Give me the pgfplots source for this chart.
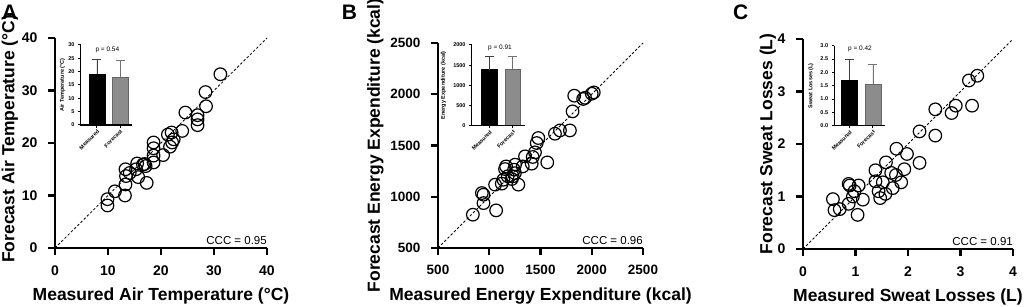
\documentclass[border=0pt]{standalone}
\usepackage{fontspec}
\setmainfont{Liberation Sans}
\usepackage{pgfplots}
\pgfplotsset{compat=1.18}

\pgfplotstableread{
x y
31.2 33.1
28.4 29.7
28.5 27.0
26.9 25.3
26.9 24.5
26.9 23.4
24.6 25.8
24.0 22.3
22.0 22.0
21.3 21.6
22.4 20.7
22.1 20.1
21.7 19.3
20.4 17.7
18.6 20.1
18.6 19.0
18.6 17.6
18.6 16.3
17.1 15.6
17.3 12.4
16.6 15.9
15.5 16.1
15.3 15.0
15.7 13.5
13.3 15.0
14.1 14.3
13.4 13.7
13.3 12.1
13.2 10.0
11.3 10.8
9.9 9.3
9.9 8.1
16.9 16.0
}\dataA

\pgfplotstableread{
x y
2020 2018
2000 2005
1916 1954
1935 1965
1829 1986
1813 1833
1787 1647
1690 1647
1641 1615
1566 1335
1479 1573
1463 1524
1446 1433
1424 1388
1414 1323
1349 1394
1327 1296
1252 1313
1242 1264
1229 1199
1220 1173
1284 1118
1164 1296
1154 1270
1138 1166
1122 1128
1057 1118
1067 867
944 1020
928 1036
944 938
840 825
1250 1230
1180 1200
}\dataB

\pgfplotstableread{
x y
3.32 3.30
3.16 3.21
3.22 2.73
2.91 2.73
2.83 2.59
2.52 2.66
2.52 2.16
2.22 2.24
2.22 1.64
1.98 1.81
1.78 1.91
1.93 1.52
1.87 1.27
1.58 1.65
1.68 1.45
1.77 1.41
1.71 1.16
1.38 1.50
1.38 1.29
1.52 1.27
1.57 1.05
1.44 1.10
1.47 0.97
1.06 1.21
1.14 0.94
1.04 0.65
0.87 1.24
0.89 1.21
0.98 1.10
0.95 1.00
0.87 0.86
0.57 0.95
0.60 0.74
0.70 0.76
}\dataC

\begin{document}
\begin{tikzpicture}

% ---------------- Panel A ----------------
\begin{axis}[scale only axis, anchor=south west, at={(55pt,59pt)}, width=212pt, height=210pt,
  xmin=0, xmax=40, ymin=0, ymax=40,
  xtick={0,10,20,30,40}, ytick={0,10,20,30,40},
  xticklabels={0,10,20,30,40}, yticklabels={0,10,20,30,40},
  enlargelimits=false, clip=false,
  xticklabel style={font=\fontsize{14}{14}\selectfont\bfseries, yshift=-7pt},
  yticklabel style={font=\fontsize{14}{14}\selectfont\bfseries, xshift=-7pt},
  xlabel={Measured Air Temperature (°C)},
  ylabel={Forecast Air Temperature (°C)},
  xlabel style={font=\fontsize{17.5}{17.5}\selectfont\bfseries, at={(axis description cs:0.5,0)}, anchor=base, yshift=-53pt},
  ylabel style={font=\fontsize{17.5}{17.5}\selectfont\bfseries, at={(axis description cs:-0.213,0.52)}, anchor=center},
  axis lines=left,
  axis line style={-, line width=2.4pt, black},
  tick style={line width=2.2pt, black},
  tick align=outside, major tick length=7pt]
\addplot[black, line width=0.8pt, dash pattern=on 2.5pt off 2pt] coordinates {(0,0) (40,40)};
\addplot[only marks, mark=o, mark size=6.3pt, mark options={line width=1.2pt, black}] table[x=x,y=y] {\dataA};
\addplot[black, line width=2.4pt, mark=none] coordinates {(0,40) (0,0) (40,0)};
\addplot[black, line width=2.2pt, mark=none, unbounded coords=jump] coordinates {
 (0,0)(0,-1.33) (nan,nan) (10,0)(10,-1.33) (nan,nan) (20,0)(20,-1.33) (nan,nan)
 (30,0)(30,-1.33) (nan,nan) (40,0)(40,-1.33) (nan,nan)
 (0,0)(-1.32,0) (nan,nan) (0,10)(-1.32,10) (nan,nan) (0,20)(-1.32,20) (nan,nan)
 (0,30)(-1.32,30) (nan,nan) (0,40)(-1.32,40)};
\node[anchor=south east, inner sep=0pt, font=\fontsize{11.5}{11.5}\selectfont] at (rel axis cs:1,0) [yshift=3pt] {CCC = 0.95};
\end{axis}
\begin{axis}[scale only axis, anchor=south west, at={(80.7pt,182pt)}, width=51pt, height=80pt,
  xmin=-0.7, xmax=1.5, ymin=0, ymax=30,
  xtick={0,1}, xticklabels={Measured,Forecast},
  ytick={0,5,10,15,20,25,30}, yticklabels={0,5,10,15,20,25,30},
  enlargelimits=false, clip=false,
  xticklabel style={font=\fontsize{5.5}{5.5}\selectfont\bfseries, rotate=45, anchor=north east, inner sep=1pt},
  yticklabel style={font=\fontsize{5.5}{5.5}\selectfont\bfseries, inner sep=1pt, xshift=-2.5pt},
  ylabel={Air Temperature (°C)},
  ylabel style={font=\fontsize{5.5}{5.5}\selectfont\bfseries, at={(axis description cs:-0.36,0.5)}, anchor=center},
  axis lines=left,
  axis line style={-, line width=1.1pt, black},
  tick style={line width=1pt, black},
  tick align=outside, major tick length=2.5pt]
\addplot[ybar, bar width=15.7pt, fill=black, draw=black,
  error bars/.cd, y dir=plus, y explicit,
  error bar style={line width=0.7pt, black!75},
  error mark options={rotate=90, mark size=4.5pt, line width=0.7pt, black!75}]
  coordinates {(0,19.0) +- (0,5.75)};
\addplot[ybar, bar width=15.7pt, fill=black!45, draw=black!60,
  error bars/.cd, y dir=plus, y explicit,
  error bar style={line width=0.7pt, black!55},
  error mark options={rotate=90, mark size=4.5pt, line width=0.7pt, black!55}]
  coordinates {(1,17.9) +- (0,6.2)};
\addplot[black, line width=1.1pt, mark=none] coordinates {(-0.7,30) (-0.7,0) (1.5,0)};
\addplot[black, line width=1pt, mark=none, unbounded coords=jump] coordinates {
 (0,0)(0,-0.94) (nan,nan) (1,0)(1,-0.94) (nan,nan)
 (-0.7,0)(-0.808,0) (nan,nan) (-0.7,5)(-0.808,5) (nan,nan) (-0.7,10)(-0.808,10) (nan,nan)
 (-0.7,15)(-0.808,15) (nan,nan) (-0.7,20)(-0.808,20) (nan,nan) (-0.7,25)(-0.808,25) (nan,nan)
 (-0.7,30)(-0.808,30)};
\node[font=\fontsize{6.5}{6.5}\selectfont] at (axis cs:0.45,28.1) {p = 0.54};
\end{axis}

% ---------------- Panel B ----------------
\begin{axis}[scale only axis, anchor=south west, at={(438pt,59pt)}, width=205pt, height=205pt,
  xmin=500, xmax=2500, ymin=500, ymax=2500,
  xtick={500,1000,1500,2000,2500}, ytick={500,1000,1500,2000,2500},
  xticklabels={500,1000,1500,2000,2500}, yticklabels={500,1000,1500,2000,2500},
  enlargelimits=false, clip=false,
  xticklabel style={font=\fontsize{13.5}{13.5}\selectfont\bfseries, yshift=-7pt},
  yticklabel style={font=\fontsize{13.5}{13.5}\selectfont\bfseries, xshift=-7pt},
  xlabel={Measured Energy Expenditure (kcal)},
  ylabel={Forecast Energy Expenditure (kcal)},
  xlabel style={font=\fontsize{17.5}{17.5}\selectfont\bfseries, at={(axis description cs:0.5,0)}, anchor=base, yshift=-53pt},
  ylabel style={font=\fontsize{17.5}{17.5}\selectfont\bfseries, at={(axis description cs:-0.305,0.5)}, anchor=center},
  axis lines=left,
  axis line style={-, line width=2.4pt, black},
  tick style={line width=2.2pt, black},
  tick align=outside, major tick length=7pt]
\addplot[black, line width=0.8pt, dash pattern=on 2.5pt off 2pt] coordinates {(500,500) (2500,2500)};
\addplot[only marks, mark=o, mark size=6.3pt, mark options={line width=1.2pt, black}] table[x=x,y=y] {\dataB};
\addplot[black, line width=2.4pt, mark=none] coordinates {(500,2500) (500,500) (2500,500)};
\addplot[black, line width=2.2pt, mark=none, unbounded coords=jump] coordinates {
 (500,500)(500,431.7) (nan,nan) (1000,500)(1000,431.7) (nan,nan) (1500,500)(1500,431.7) (nan,nan)
 (2000,500)(2000,431.7) (nan,nan) (2500,500)(2500,431.7) (nan,nan)
 (500,500)(431.7,500) (nan,nan) (500,1000)(431.7,1000) (nan,nan) (500,1500)(431.7,1500) (nan,nan)
 (500,2000)(431.7,2000) (nan,nan) (500,2500)(431.7,2500)};
\node[anchor=south east, inner sep=0pt, font=\fontsize{11.5}{11.5}\selectfont] at (rel axis cs:1,0) [yshift=3pt] {CCC = 0.96};
\end{axis}
\begin{axis}[scale only axis, anchor=south west, at={(471.7pt,181.3pt)}, width=53.3pt, height=80.7pt,
  xmin=-0.76, xmax=1.52, ymin=0, ymax=2000,
  xtick={0,1}, xticklabels={Measured,Forecast},
  ytick={0,500,1000,1500,2000}, yticklabels={0,500,1000,1500,2000},
  enlargelimits=false, clip=false,
  xticklabel style={font=\fontsize{5.5}{5.5}\selectfont\bfseries, rotate=45, anchor=north east, inner sep=1pt},
  yticklabel style={font=\fontsize{5.5}{5.5}\selectfont\bfseries, inner sep=1pt, xshift=-2.5pt},
  ylabel={Energy Expenditure (kcal)},
  ylabel style={font=\fontsize{5.5}{5.5}\selectfont\bfseries, at={(axis description cs:-0.53,0.5)}, anchor=center},
  axis lines=left,
  axis line style={-, line width=1.1pt, black},
  tick style={line width=1pt, black},
  tick align=outside, major tick length=2.5pt]
\addplot[ybar, bar width=15.7pt, fill=black, draw=black,
  error bars/.cd, y dir=plus, y explicit,
  error bar style={line width=0.7pt, black!75},
  error mark options={rotate=90, mark size=4.5pt, line width=0.7pt, black!75}]
  coordinates {(0,1388) +- (0,323)};
\addplot[ybar, bar width=15.7pt, fill=black!45, draw=black!60,
  error bars/.cd, y dir=plus, y explicit,
  error bar style={line width=0.7pt, black!55},
  error mark options={rotate=90, mark size=4.5pt, line width=0.7pt, black!55}]
  coordinates {(1,1400) +- (0,311)};
\addplot[black, line width=1.1pt, mark=none] coordinates {(-0.76,2000) (-0.76,0) (1.52,0)};
\addplot[black, line width=1pt, mark=none, unbounded coords=jump] coordinates {
 (0,0)(0,-62) (nan,nan) (1,0)(1,-62) (nan,nan)
 (-0.76,0)(-0.867,0) (nan,nan) (-0.76,500)(-0.867,500) (nan,nan) (-0.76,1000)(-0.867,1000) (nan,nan)
 (-0.76,1500)(-0.867,1500) (nan,nan) (-0.76,2000)(-0.867,2000)};
\node[font=\fontsize{6.5}{6.5}\selectfont] at (axis cs:0.45,1918) {p = 0.91};
\end{axis}

% ---------------- Panel C ----------------
\begin{axis}[scale only axis, anchor=south west, at={(803pt,58pt)}, width=210pt, height=210pt,
  xmin=0, xmax=4, ymin=0, ymax=4,
  xtick={0,1,2,3,4}, ytick={0,1,2,3,4},
  xticklabels={0,1,2,3,4}, yticklabels={0,1,2,3,4},
  enlargelimits=false, clip=false,
  xticklabel style={font=\fontsize{14}{14}\selectfont\bfseries, yshift=-7pt},
  yticklabel style={font=\fontsize{14}{14}\selectfont\bfseries, xshift=-7pt},
  xlabel={Measured Sweat Losses (L)},
  ylabel={Forecast Sweat Losses (L)},
  xlabel style={font=\fontsize{17.5}{17.5}\selectfont\bfseries, at={(axis description cs:0.5,0)}, anchor=base, yshift=-53pt},
  ylabel style={font=\fontsize{17.5}{17.5}\selectfont\bfseries, at={(axis description cs:-0.167,0.5)}, anchor=center},
  axis lines=left,
  axis line style={-, line width=2.4pt, black},
  tick style={line width=2.2pt, black},
  tick align=outside, major tick length=7pt]
\addplot[black, line width=0.8pt, dash pattern=on 2.5pt off 2pt] coordinates {(0,0) (4,4)};
\addplot[only marks, mark=o, mark size=6.3pt, mark options={line width=1.2pt, black}] table[x=x,y=y] {\dataC};
\addplot[black, line width=2.4pt, mark=none] coordinates {(0,4) (0,0) (4,0)};
\addplot[black, line width=2.2pt, mark=none, unbounded coords=jump] coordinates {
 (0,0)(0,-0.133) (nan,nan) (1,0)(1,-0.133) (nan,nan) (2,0)(2,-0.133) (nan,nan)
 (3,0)(3,-0.133) (nan,nan) (4,0)(4,-0.133) (nan,nan)
 (0,0)(-0.133,0) (nan,nan) (0,1)(-0.133,1) (nan,nan) (0,2)(-0.133,2) (nan,nan)
 (0,3)(-0.133,3) (nan,nan) (0,4)(-0.133,4)};
\node[anchor=south east, inner sep=0pt, font=\fontsize{11.5}{11.5}\selectfont] at (rel axis cs:1,0) [yshift=3pt] {CCC = 0.91};
\end{axis}
\begin{axis}[scale only axis, anchor=south west, at={(834.3pt,181.3pt)}, width=50.7pt, height=80pt,
  xmin=-0.65, xmax=1.52, ymin=0, ymax=3,
  xtick={0,1}, xticklabels={Measured,Forecast},
  ytick={0,0.5,1,1.5,2,2.5,3}, yticklabels={0.0,0.5,1.0,1.5,2.0,2.5,3.0},
  enlargelimits=false, clip=false,
  xticklabel style={font=\fontsize{5.5}{5.5}\selectfont\bfseries, rotate=45, anchor=north east, inner sep=1pt},
  yticklabel style={font=\fontsize{5.5}{5.5}\selectfont\bfseries, inner sep=1pt, xshift=-2.5pt},
  ylabel={Sweat Losses (L)},
  ylabel style={font=\fontsize{5.5}{5.5}\selectfont\bfseries, at={(axis description cs:-0.46,0.5)}, anchor=center},
  axis lines=left,
  axis line style={-, line width=1.1pt, black},
  tick style={line width=1pt, black},
  tick align=outside, major tick length=2.5pt]
\addplot[ybar, bar width=15.7pt, fill=black, draw=black,
  error bars/.cd, y dir=plus, y explicit,
  error bar style={line width=0.7pt, black!75},
  error mark options={rotate=90, mark size=4.5pt, line width=0.7pt, black!75}]
  coordinates {(0,1.71) +- (0,0.78)};
\addplot[ybar, bar width=15.7pt, fill=black!45, draw=black!60,
  error bars/.cd, y dir=plus, y explicit,
  error bar style={line width=0.7pt, black!55},
  error mark options={rotate=90, mark size=4.5pt, line width=0.7pt, black!55}]
  coordinates {(1,1.56) +- (0,0.74)};
\addplot[black, line width=1.1pt, mark=none] coordinates {(-0.65,3) (-0.65,0) (1.52,0)};
\addplot[black, line width=1pt, mark=none, unbounded coords=jump] coordinates {
 (0,0)(0,-0.094) (nan,nan) (1,0)(1,-0.094) (nan,nan)
 (-0.65,0)(-0.757,0) (nan,nan) (-0.65,0.5)(-0.757,0.5) (nan,nan) (-0.65,1)(-0.757,1) (nan,nan)
 (-0.65,1.5)(-0.757,1.5) (nan,nan) (-0.65,2)(-0.757,2) (nan,nan) (-0.65,2.5)(-0.757,2.5) (nan,nan)
 (-0.65,3)(-0.757,3)};
\node[font=\fontsize{6.5}{6.5}\selectfont] at (axis cs:0.45,2.88) {p = 0.42};
\end{axis}

% panel letters
\node[anchor=north west, inner sep=0pt, font=\fontsize{21}{21}\selectfont\bfseries] at (2pt,302pt) {A};
\node[anchor=north west, inner sep=0pt, font=\fontsize{21}{21}\selectfont\bfseries] at (341.7pt,302pt) {B};
\node[anchor=north west, inner sep=0pt, font=\fontsize{21}{21}\selectfont\bfseries] at (733pt,302pt) {C};
\pgfresetboundingbox
\useasboundingbox (0,0) rectangle (1026pt,307pt);
\end{tikzpicture}
\end{document}
